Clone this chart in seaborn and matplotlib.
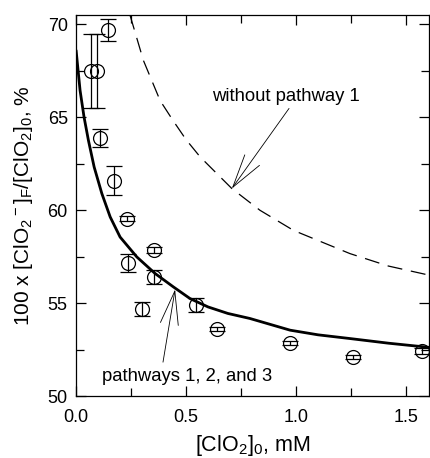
import matplotlib
matplotlib.use("Agg")
import matplotlib.pyplot as plt
import seaborn as sns
from matplotlib.ticker import MultipleLocator, FormatStrFormatter

# measured points
x_pts = [0.068, 0.094, 0.144, 0.109, 0.173, 0.230, 0.235, 0.298, 0.356, 0.356, 0.545, 0.640, 0.973, 1.258, 1.571]
y_pts = [67.5, 67.5, 69.7, 63.9, 61.6, 59.55, 57.17, 54.7, 56.41, 57.85, 54.9, 53.6, 52.87, 52.1, 52.44]
y_err = [2.0, 2.0, 0.6, 0.5, 0.8, 0.15, 0.5, 0.38, 0.38, 0.15, 0.38, 0.12, 0.12, 0.12, 0.15]

# model, pathways 1, 2 and 3
x_full = [0.0, 0.018, 0.036, 0.056, 0.082, 0.117, 0.155, 0.2, 0.276, 0.359, 0.442, 0.518,
          0.6, 0.69, 0.79, 0.973, 1.1, 1.245, 1.42, 1.609]
y_full = [68.6, 66.45, 65.02, 63.76, 62.33, 60.9, 59.64, 58.56, 57.49, 56.6, 55.88, 55.25,
          54.8, 54.45, 54.18, 53.55, 53.3, 53.1, 52.85, 52.62]

# model without pathway 1
x_nop1 = [0.245, 0.306, 0.382, 0.44, 0.5, 0.564, 0.708, 0.836, 0.988, 1.245, 1.42, 1.609]
y_nop1 = [70.5, 68.06, 65.9, 64.84, 63.8, 62.87, 61.17, 60.0, 58.92, 57.67, 57.0, 56.5]

sns.set_style("ticks")
plt.rcParams['font.family'] = ['Liberation Sans', 'DejaVu Sans']
plt.rcParams['mathtext.default'] = 'regular'
plt.rcParams['text.color'] = 'black'
plt.rcParams['axes.labelcolor'] = 'black'
plt.rcParams['xtick.color'] = 'black'
plt.rcParams['ytick.color'] = 'black'

fig = plt.figure(figsize=(4.3, 4.58), dpi=100)
ax = fig.add_axes([0.177, 0.135, 0.821, 0.832])

sns.lineplot(x=x_full, y=y_full, ax=ax, color='black', lw=2.0, sort=False)
sns.lineplot(x=x_nop1, y=y_nop1, ax=ax, color='black', lw=0.9, sort=False,
             linestyle=(0, (12, 7)))
ax.errorbar(x_pts, y_pts, yerr=y_err, fmt='o', mfc='none', mec='black', ms=10,
            mew=0.9, ecolor='black', elinewidth=0.9, capsize=6, capthick=0.9)

arrow = dict(arrowstyle='->,head_length=2.4,head_width=0.65', color='black',
             lw=0.6, shrinkA=0, shrinkB=0, mutation_scale=10)
ax.text(0.955, 66.1, 'without pathway 1', ha='center', va='center', fontsize=13.3)
ax.annotate('', xy=(0.708, 61.17), xytext=(0.968, 65.48), arrowprops=arrow)
ax.text(0.505, 51.07, 'pathways 1, 2, and 3', ha='center', va='center', fontsize=13.3)
ax.annotate('', xy=(0.45, 55.74), xytext=(0.395, 51.83), arrowprops=arrow)

ax.set_xlim(0, 1.605)
ax.set_ylim(50, 70.5)
ax.xaxis.set_major_locator(MultipleLocator(0.5))
ax.xaxis.set_minor_locator(MultipleLocator(0.25))
ax.yaxis.set_major_locator(MultipleLocator(5))
ax.yaxis.set_minor_locator(MultipleLocator(2.5))
ax.xaxis.set_major_formatter(FormatStrFormatter('%.1f'))
ax.tick_params(which='both', direction='in', top=True, right=True, labelsize=13,
               width=0.9, colors='black')
ax.tick_params(which='major', length=7)
ax.tick_params(which='minor', length=6)
ax.tick_params(axis='x', pad=9)
ax.tick_params(axis='y', pad=6)
for s in ax.spines.values():
    s.set_linewidth(0.9)
    s.set_color('black')

ax.set_xlabel(r'[ClO$_2$]$_0$, mM', fontsize=15.5, labelpad=5)
ax.set_ylabel(r'100 x [ClO$_2$$^-$]$_F$/[ClO$_2$]$_0$, %', fontsize=15, labelpad=9)

fig.savefig('out.png', dpi=100)
